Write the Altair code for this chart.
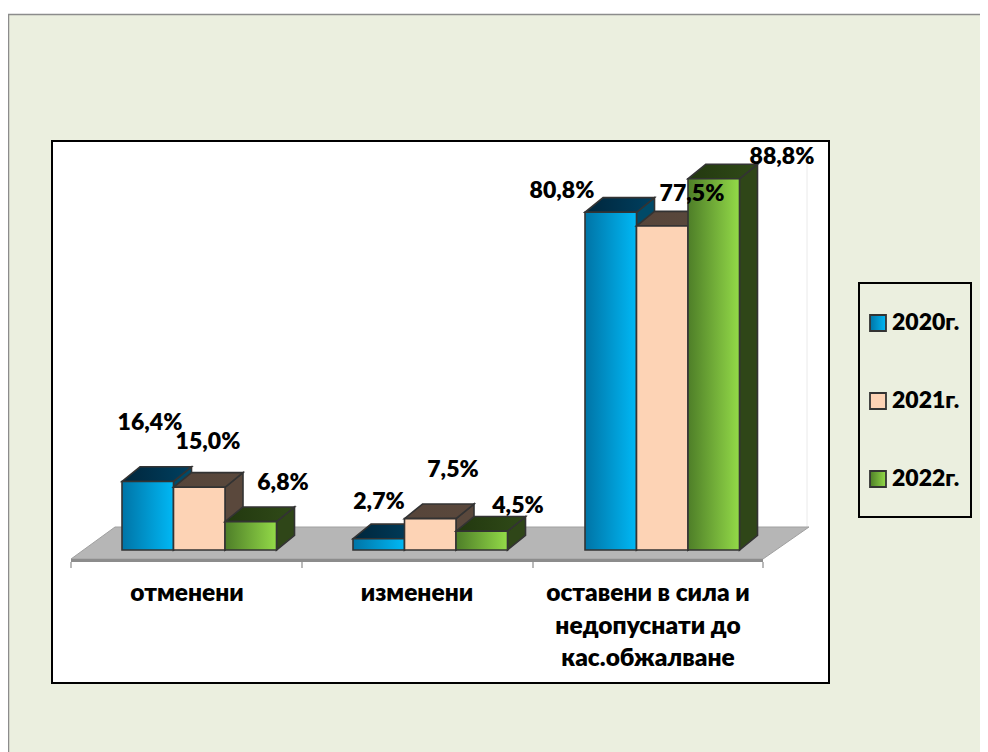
import altair as alt
import pandas as pd

# ---- values
categories = ["отменени", "изменени", "оставени в сила и\nнедопуснати до\nкас.обжалване"]
years = ["2020г.", "2021г.", "2022г."]
values_2020 = [16.4, 2.7, 80.8]
values_2021 = [15.0, 7.5, 77.5]
values_2022 = [6.8, 4.5, 88.8]
series = [values_2020, values_2021, values_2022]

# ---- styles
FONT = "Lato, 'Open Sans', sans-serif"
PANEL = "#EBEFDF"
EDGE = "#333333"
def grad(a, b):
    return alt.LinearGradient(gradient="linear", x1=0, x2=1, y1=0, y2=0,
                              stops=[alt.GradientStop(offset=0, color=a), alt.GradientStop(offset=1, color=b)])
front = [grad("#0074A6", "#00B8F5"), grad("#FDD3B5", "#FDD3B5"), grad("#4E7E28", "#93DA48")]
top_face = [grad("#00263C", "#004060"), grad("#56453A", "#5A483C"), grad("#22380F", "#304A18")]
side_face = ["#004A68", "#5A483C", "#2F4618"]

# ---- layout (pixels in the plot, value units through the y scale)
W, H = 972, 744
PX = 4.18            # pixels per percent
ZERO = 542           # y pixel of 0 %
group_x = [114, 345, 577]
bar_w = 51.5
depth_x, depth_v = 18, 3.5
xs = alt.Scale(domain=[0, W], nice=False, zero=False)
ys = alt.Scale(domain=[-(H - ZERO) / PX, ZERO / PX], nice=False, zero=False)
X = lambda f="x": alt.X(f"{f}:Q", scale=xs, axis=None)
Y = lambda f="y": alt.Y(f"{f}:Q", scale=ys, axis=None)
X2 = lambda f="x2": alt.X2(f"{f}:Q")
Y2 = lambda f="y2": alt.Y2(f"{f}:Q")
vy = lambda page_y: (ZERO + 8 - page_y) / PX   # page pixel -> value units

def box(x0, x1, y0, y1, **kw):
    return alt.Chart(pd.DataFrame({"a": [0]})).mark_rect(**kw).encode(
        x=alt.value(x0), x2=alt.value(x1), y=alt.value(y0), y2=alt.value(y1))

layers = [
    box(0.5, 1000, 6.5, 1000, fill=PANEL, stroke="#8C8C8C", strokeWidth=1.5),
    box(45, 822, 134, 676, fill="#808080", opacity=0.5),
    box(44, 821, 133, 675, fill="white", stroke="black", strokeWidth=2),
    box(851, 963, 275, 509, fill=PANEL, stroke="black", strokeWidth=2),
]

# back wall edge
layers.append(alt.Chart(pd.DataFrame({"x": [799], "y": [vy(150)], "y2": [vy(527)]}))
              .mark_rule(color="#EAEAEA", strokeWidth=1).encode(x=X(), y=Y(), y2=Y2()))

# floor
floor = pd.DataFrame({"y": [vy(527), vy(559)], "x": [107, 63], "x2": [801, 755]})
layers.append(alt.Chart(floor).mark_area(orient="horizontal", fill="#B6B6B6", stroke="#A0A0A0", strokeWidth=1)
              .encode(y=Y(), x=X(), x2=X2()))
layers.append(alt.Chart(pd.DataFrame({"x": [63], "x2": [755], "y": [vy(559)], "y2": [vy(562)]}))
              .mark_rect(fill="#8C8C8C").encode(x=X(), x2=X2(), y=Y(), y2=Y2()))
ticks = pd.DataFrame({"x": [63, 294, 525, 755], "y": [vy(562)] * 4, "y2": [vy(568)] * 4})
layers.append(alt.Chart(ticks).mark_rule(color="#8C8C8C", strokeWidth=1.2).encode(x=X(), y=Y(), y2=Y2()))

# bars: side, top and front of each bar, painted from left to right
for g, gx in enumerate(group_x):
    for s in range(3):
        v = series[s][g]
        x0 = gx + s * bar_w
        x1 = x0 + bar_w
        side = pd.DataFrame({"x": [x1, x1 + depth_x], "y": [v, v + depth_v], "y2": [0, depth_v]})
        layers.append(alt.Chart(side).mark_area(fill=side_face[s], stroke=EDGE, strokeWidth=1.6)
                      .encode(x=X(), y=Y(), y2=Y2()))
        top = pd.DataFrame({"y": [v, v + depth_v], "x": [x0, x0 + depth_x], "x2": [x1, x1 + depth_x]})
        layers.append(alt.Chart(top).mark_area(orient="horizontal", fill=top_face[s], stroke=EDGE, strokeWidth=1.6)
                      .encode(y=Y(), x=X(), x2=X2()))
        fr = pd.DataFrame({"x": [x0], "x2": [x1], "y": [v], "y2": [0]})
        layers.append(alt.Chart(fr).mark_rect(fill=front[s], stroke=EDGE, strokeWidth=1.6)
                      .encode(x=X(), x2=X2(), y=Y(), y2=Y2()))

# data labels: manual placement, as in the picture (centre, page pixels)
label_x = [[150, 379, 562], [208, 453, 692], [283, 518, 782]]
label_y = [[423, 502, 191], [442, 470, 194], [483, 506, 157]]
rows = []
for s in range(3):
    for g in range(3):
        rows.append({"x": label_x[s][g] - 8, "y": vy(label_y[s][g]),
                     "t": f"{series[s][g]:.1f}%".replace(".", ",")})
layers.append(alt.Chart(pd.DataFrame(rows))
              .mark_text(font=FONT, fontWeight=800, fontSize=23, color="black", align="center", baseline="middle")
              .encode(x=X(), y=Y(), text="t:N"))

# category labels
cat_x = [179, 409, 640]
line_y = [594, 627, 659]
rows = []
for g, c in enumerate(categories):
    for i, line in enumerate(c.split("\n")):
        rows.append({"x": cat_x[g], "y": vy(line_y[i]), "t": line})
layers.append(alt.Chart(pd.DataFrame(rows))
              .mark_text(font=FONT, fontWeight=800, fontSize=24.5, color="black", align="center", baseline="middle")
              .encode(x=X(), y=Y(), text="t:N"))

# legend
leg_y = [323, 401, 479]
for s, yr in enumerate(years):
    layers.append(box(862, 878, leg_y[s] - 8 - 8, leg_y[s] - 8 + 8, fill=front[s], stroke=EDGE, strokeWidth=1.8))
layers.append(alt.Chart(pd.DataFrame({"x": [884] * 3, "y": [vy(v) for v in leg_y], "t": years}))
              .mark_text(font=FONT, fontWeight=800, fontSize=23, color="black", align="left", baseline="middle")
              .encode(x=X(), y=Y(), text="t:N"))

chart = alt.layer(*layers).properties(width=W, height=H, padding=0, autosize="none", background="transparent") \
    .configure_view(stroke=None)
chart.save("out.html", embed_options={"renderer": "svg", "actions": False})
